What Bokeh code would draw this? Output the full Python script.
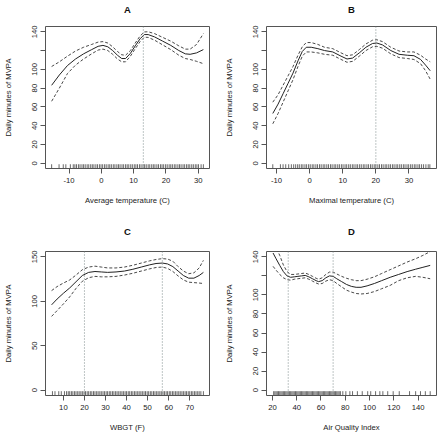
from bokeh.plotting import figure
from bokeh.layouts import column, row
from bokeh.models import Range1d, Span, FixedTicker, LinearAxis
from bokeh.embed import file_html
from bokeh.resources import INLINE

FONT = "Liberation Sans"

# ---------------- Panel A: average temperature ----------------
A_x = [-15.4, -13.0, -10.5, -8.0, -5.5, -3.0, -1.0, 0.5, 2.0, 3.5, 5.0, 6.3, 7.5, 9.0,
       10.5, 12.0, 13.3, 14.5, 16.5, 19.0, 21.5, 24.0, 26.0, 27.5, 29.5, 31.6]
A_fit = [83, 94, 104, 111, 116.5, 121, 124.5, 125.5, 124, 120, 115, 111.5, 111.5, 117,
         125, 132.5, 137, 137, 134.5, 130, 125.5, 120, 116.5, 116, 117.5, 121]
A_hi = [103, 108, 114, 119.5, 123.5, 126.5, 129, 129.5, 128, 124, 119, 115.5, 115, 120,
        128, 135.5, 139.8, 140, 138, 134, 130, 125, 121.5, 121.5, 126.5, 138]
A_lo = [66, 80, 95.5, 104.5, 111, 116.5, 120.5, 121.5, 120, 116, 111, 108, 108, 114,
        122, 129.5, 134.2, 134, 131, 126, 121, 115, 111.5, 110.5, 108.5, 106]
A_rug = [-15.4, -13.1, -11.8, -11.0, -9.6, -8.7, -8.2, -7.7, -7.1, -6.6, -6.0, -5.5, -5.0,
         -4.4, -3.9, -3.3, -2.8, -2.3, -1.7, -1.2, -0.6, -0.1, 0.4, 1.0, 1.5, 2.1, 2.6, 3.1,
         3.7, 4.2, 4.8, 5.3, 5.8, 6.4, 6.9, 7.5, 8.0, 8.5, 9.1, 9.6, 10.2, 10.7, 11.2, 11.8,
         12.3, 12.9, 13.4, 13.9, 14.5, 15.0, 15.6, 16.1, 16.6, 17.2, 17.7, 18.3, 18.8, 19.3,
         19.9, 20.4, 21.0, 21.5, 22.0, 22.6, 23.1, 23.7, 24.2, 24.7, 25.3, 25.8, 26.4, 26.9,
         27.4, 28.0, 28.5, 29.1, 29.6, 30.1, 30.9, 31.6]
A_vlines = [13]
A_xticks = [-10, 0, 10, 20, 30]

# ---------------- Panel B: maximal temperature ----------------
B_x = [-11.1, -9.5, -8.0, -6.5, -5.0, -3.5, -2.2, -1.0, 0.5, 2.5, 4.5, 7.0, 9.5, 11.3,
       13.0, 15.0, 17.0, 19.0, 20.3, 22.0, 24.5, 27.0, 29.5, 31.5, 33.5, 35.0, 36.4]
B_fit = [53, 63, 74, 85, 96, 109, 119, 123.5, 123.5, 122, 120, 118.5, 114, 111,
         112, 117.5, 123.5, 127.5, 128, 126, 120, 116, 115, 114.5, 110.5, 104.5, 98.5]
B_hi = [65, 73, 83, 93, 103, 115, 124, 128.5, 128.5, 126.5, 123.5, 122, 117.5, 114.5,
        115.5, 121, 127, 131, 131.5, 129.5, 123.5, 119.5, 118.5, 118.5, 115, 111, 108]
B_lo = [42, 53, 65, 77, 89, 103, 114, 118.5, 118.5, 117.5, 116, 115, 110.5, 107.5,
        108.5, 114, 120, 124, 124.5, 122.5, 116.5, 112.5, 111.5, 110.5, 106, 98.5, 89.5]
B_rug = [-11.1, -8.8, -8.0, -7.2, -6.3, -5.5, -4.8, -4.2, -3.6, -3.1, -2.5, -2.0, -1.4,
         -0.9, -0.3, 0.2, 0.8, 1.3, 1.9, 2.4, 3.0, 3.5, 4.1, 4.6, 5.2, 5.7, 6.3, 6.8, 7.4,
         7.9, 8.5, 9.0, 9.6, 10.1, 10.7, 11.2, 11.8, 12.3, 12.9, 13.4, 14.0, 14.5, 15.1,
         15.6, 16.2, 16.7, 17.3, 17.8, 18.4, 18.9, 19.5, 20.0, 20.6, 21.1, 21.7, 22.2, 22.8,
         23.3, 23.9, 24.4, 25.0, 25.5, 26.1, 26.6, 27.2, 27.7, 28.3, 28.8, 29.4, 29.9, 30.5,
         31.0, 31.6, 32.1, 32.7, 33.2, 33.8, 34.4, 35.1, 35.8, 36.3]
B_vlines = [20]
B_xticks = [-10, 0, 10, 20, 30]

# ---------------- Panel C: WBGT ----------------
C_x = [4.4, 7, 10, 13, 16, 19, 22, 25, 28, 31, 35, 39, 43, 47, 51, 54, 57, 59.5, 62,
       64.5, 67, 69.5, 72, 74.5, 76.5]
C_fit = [96, 102.5, 109, 115, 122, 129, 132.5, 133.5, 133, 132.5, 133, 134, 136, 138.5,
         141, 142.5, 143, 142, 139, 134, 129, 126, 126, 129, 132.5]
C_hi = [112, 116.5, 120.5, 124, 129.5, 135.5, 138.5, 139.5, 138.5, 137.5, 137.5, 138.5,
        140.5, 143, 145.5, 147, 148, 147.5, 145, 139, 134, 131, 132, 137.5, 146]
C_lo = [83, 89.5, 97, 105, 114.5, 122.5, 126.5, 128, 127.5, 127.5, 128, 129.5, 131.5,
        134, 136.5, 138, 138.5, 137, 133.5, 128.5, 124, 121.5, 121, 120.5, 120]
C_rug = [4.8, 6.0, 7.8, 9.0, 10.5, 11.5, 12.3, 13.0, 13.8, 14.5, 15.3, 16.0, 16.8, 17.5,
         18.3, 19.0, 19.8, 20.5, 21.3, 22.0, 22.8, 23.5, 24.3, 25.0, 25.8, 26.5, 27.3, 28.0,
         28.8, 29.5, 30.3, 31.0, 31.8, 32.5, 33.3, 34.0, 34.8, 35.5, 36.3, 37.0, 37.8, 38.5,
         39.3, 40.0, 40.8, 41.5, 42.3, 43.0, 43.8, 44.5, 45.3, 46.0, 46.8, 47.5, 48.3, 49.0,
         49.8, 50.5, 51.3, 52.0, 52.8, 53.5, 54.3, 55.0, 55.8, 56.5, 57.3, 58.0, 58.8, 59.5,
         60.3, 61.0, 61.8, 62.5, 63.3, 64.0, 64.8, 65.5, 66.3, 67.0, 67.8, 68.5, 69.3, 70.0,
         70.8, 71.5, 72.3, 73.0, 73.8, 74.5, 75.3, 76.5]
C_vlines = [20, 57]
C_xticks = [10, 20, 30, 40, 50, 60, 70]

# ---------------- Panel D: air quality index ----------------
D_x = [20.5, 23, 26, 29, 32, 35, 38, 41, 44, 47, 50, 53, 56, 58, 61, 64, 67, 70, 73, 77,
       81, 85, 89, 93, 98, 104, 110, 117, 124, 131, 138, 144, 150]
D_fit = [144, 138, 131, 124.5, 120, 118.5, 119, 119.5, 120, 120.5, 119, 117, 115, 114,
         115, 118, 120, 119.5, 117, 114, 111, 109, 108, 108, 109.5, 112, 115, 118.5, 121.5,
         124.5, 127, 129, 131]
D_hi = [158, 150, 141.5, 131.5, 124.5, 121.5, 121.5, 122, 122.5, 123, 121.5, 119.5, 117.5,
        116.5, 118, 121.5, 124, 124, 122, 119.5, 117.5, 116, 115, 115, 116.5, 119, 122.5,
        126.5, 130.5, 134.5, 138, 141.5, 145.5]
D_lo = [130, 126, 121.5, 118, 116, 115.5, 116.5, 117, 117.5, 118, 116.5, 114.5, 112.5,
        111.5, 112, 114.5, 116, 115, 112, 108.5, 105, 103, 101.5, 101, 101.5, 103.5, 106.5,
        110, 115, 118, 119.5, 118.5, 117]
D_rug = [21, 22, 23, 24, 25, 26, 27, 28, 29, 30, 31, 32, 33, 34, 35, 36, 37, 38, 39, 40,
         41, 42, 43, 44, 45, 46, 47, 48, 49, 50, 51, 52, 53, 54, 55, 56, 57, 58, 59, 60,
         61, 62, 63, 64, 65, 66, 67, 68, 69, 70, 71, 72, 73, 74, 75, 76, 78, 80.5, 83.8,
         86, 90, 94, 98.5, 101, 105, 108.5, 111, 115, 119.5, 124.5, 133, 138, 142, 146, 150]
D_vlines = [33, 70]
D_xticks = [20, 40, 60, 80, 100, 120, 140]

Y_TICKS_140 = [0, 20, 40, 60, 80, 100, 120, 140]
Y_TICKS_150 = [0, 50, 100, 150]

W, H = 220, 217


def make_panel(title, xlabel, xr, yr, xticks, yticks, hide_y, x, fit, lo, hi, rug,
               vlines, mb, title_gap):
    p = figure(width=W, height=H, x_range=Range1d(*xr), y_range=Range1d(*yr),
               output_backend="svg", toolbar_location=None,
               min_border_left=mb[0], min_border_right=mb[1],
               min_border_top=mb[2], min_border_bottom=mb[3])
    p.title.visible = False
    p.xgrid.visible = False
    p.ygrid.visible = False
    p.outline_line_color = "#555555"
    p.outline_line_width = 1
    p.background_fill_color = "white"
    p.border_fill_color = "white"

    for v in vlines:
        p.add_layout(Span(location=v, dimension="height", line_color="#7d8b8b",
                          line_dash="1 2", line_width=1))

    y0 = yr[0]
    L = 0.03 * (yr[1] - yr[0])
    p.segment(x0=rug, x1=rug, y0=[y0] * len(rug), y1=[y0 + L] * len(rug),
              line_color="#444444", line_width=0.8)

    p.line(x, hi, line_color="#333333", line_width=0.9, line_dash="3 2")
    p.line(x, lo, line_color="#333333", line_width=0.9, line_dash="3 2")
    p.line(x, fit, line_color="#222222", line_width=1.0)

    xa = p.below[0]
    ya = p.left[0]
    xa.axis_label = xlabel
    ya.axis_label = "Daily minutes of MVPA"
    xa.ticker = FixedTicker(ticks=xticks)
    ya.ticker = FixedTicker(ticks=yticks)
    xa.major_label_overrides = {t: str(t) for t in xticks}
    yo = {t: str(t) for t in yticks}
    if hide_y is not None:
        yo[hide_y] = ""
    ya.major_label_overrides = yo
    ya.major_label_orientation = "parallel"
    for ax in (xa, ya):
        ax.axis_line_color = None
        ax.major_tick_line_color = "#555555"
        ax.major_tick_out = 5
        ax.major_tick_in = 0
        ax.minor_tick_line_color = None
        ax.major_label_text_font = FONT
        ax.major_label_text_font_size = "7.7px"
        ax.major_label_text_color = "#222222"
        ax.axis_label_text_font = FONT
        ax.axis_label_text_font_size = "7.7px"
        ax.axis_label_text_font_style = "normal"
        ax.axis_label_text_color = "#222222"
    xa.major_label_standoff = 4
    xa.axis_label_standoff = 10
    ya.major_label_standoff = 3
    ya.axis_label_standoff = 17

    # panel title: an empty axis above the frame carrying the bold letter
    top = LinearAxis(axis_label=title, ticker=FixedTicker(ticks=[]))
    top.axis_line_color = None
    top.major_tick_line_color = None
    top.minor_tick_line_color = None
    top.major_label_text_font_size = "0px"
    top.axis_label_text_font = FONT
    top.axis_label_text_font_size = "9.5px"
    top.axis_label_text_font_style = "bold"
    top.axis_label_text_color = "#111111"
    top.axis_label_standoff = title_gap
    p.add_layout(top, "above")
    return p


pA = make_panel("A", "Average temperature (C)", (-17.3, 33.5), (-5.6, 145.6), A_xticks,
                Y_TICKS_140, 120, A_x, A_fit, A_lo, A_hi, A_rug, A_vlines,
                (38, 11, 23, 49), 12)
pB = make_panel("B", "Maximal temperature (C)", (-13.0, 38.3), (-5.6, 145.6), B_xticks,
                Y_TICKS_140, 120, B_x, B_fit, B_lo, B_hi, B_rug, B_vlines,
                (46, 4, 23, 49), 12)
pC = make_panel("C", "WBGT (F)", (1.5, 79.4), (-6.0, 156.0), C_xticks,
                Y_TICKS_150, None, C_x, C_fit, C_lo, C_hi, C_rug, C_vlines,
                (38, 11, 34, 38), 15)
pD = make_panel("D", "Air Quality Index", (15.1, 155.2), (-5.6, 145.6), D_xticks,
                Y_TICKS_140, 120, D_x, D_fit, D_lo, D_hi, D_rug, D_vlines,
                (46, 4, 34, 38), 15)

layout = column(row(pA, pB), row(pC, pD))
open("out.html", "w").write(file_html(layout, INLINE))
